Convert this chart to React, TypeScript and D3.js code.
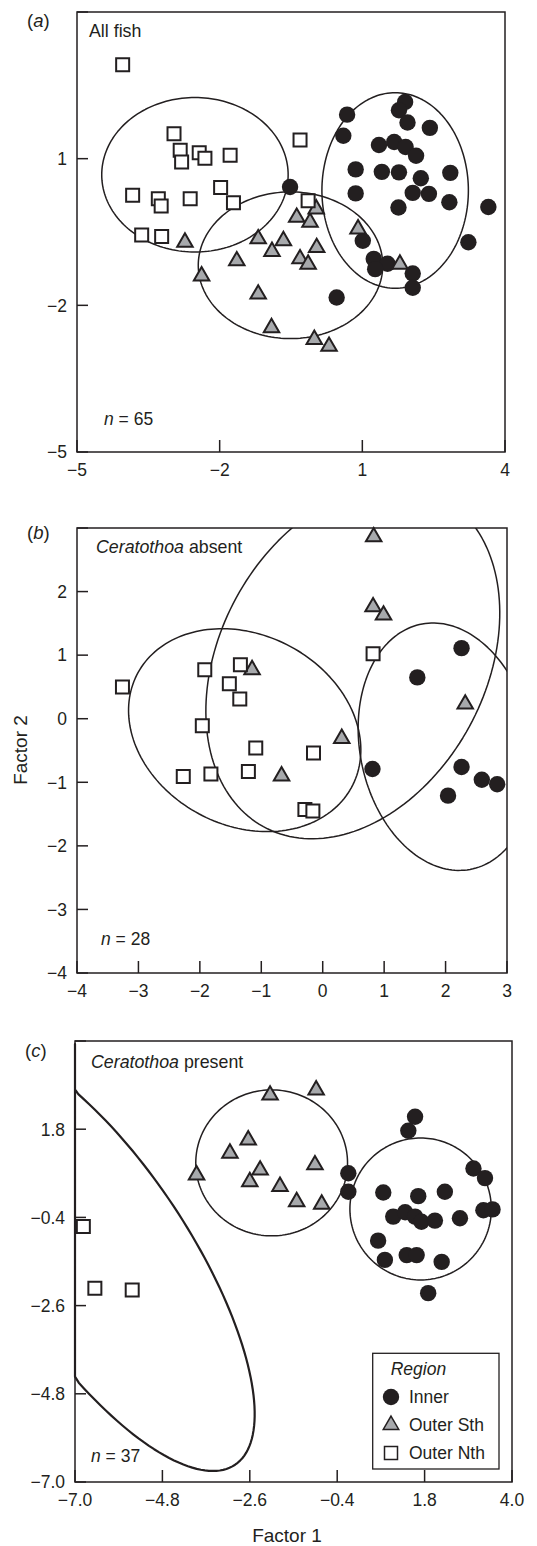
import React from 'react';
import * as d3 from 'd3';

type Pt = [number, number];
interface Ell { cx: number; cy: number; a: number; b: number; rot: number; w?: number }

const INK = '#231f20';
const GREY = '#a7a9ac';
const FONT = '"Liberation Sans", Arial, Helvetica, sans-serif';

// ---- panel (a) All fish ----
const circlesA: Pt[] = [
  [0.68, 1.90], [0.60, 1.47], [1.90, 2.16], [1.77, 1.99], [1.95, 1.74], [2.42, 1.63],
  [1.35, 1.28], [1.67, 1.34], [1.91, 1.24], [2.13, 1.06], [0.86, 0.78], [1.41, 0.73],
  [1.77, 0.72], [2.23, 0.60], [2.85, 0.71], [0.86, 0.29], [2.06, 0.30], [2.40, 0.28],
  [1.76, 0.00], [2.83, 0.11], [3.65, 0.01], [-0.52, 0.42], [3.23, -0.71], [1.01, -0.68],
  [1.24, -1.05], [1.53, -1.15], [1.27, -1.26], [2.06, -1.35], [2.06, -1.64], [0.46, -1.84],
];
const trianglesA: Pt[] = [
  [-2.73, -0.71], [-1.19, -0.64], [-0.66, -0.68], [-0.38, -0.20], [-0.10, -0.30], [0.03, -0.03],
  [0.91, -0.44], [0.04, -0.82], [-0.90, -0.90], [-2.38, -1.40], [-1.64, -1.09], [-0.31, -1.05],
  [-0.14, -1.16], [-1.19, -1.77], [-0.91, -2.46], [-0.01, -2.70], [0.30, -2.84], [1.79, -1.16],
];
const squaresA: Pt[] = [
  [-4.04, 2.92], [-2.96, 1.51], [-2.83, 1.17], [-2.80, 0.93], [-2.43, 1.12], [-2.31, 1.01],
  [-1.78, 1.07], [-3.83, 0.25], [-3.29, 0.18], [-3.23, 0.03], [-2.62, 0.18], [-1.98, 0.41],
  [-1.71, 0.10], [-3.64, -0.56], [-3.22, -0.59], [-0.31, 1.38], [-0.14, 0.14],
];
const ellipsesA: Ell[] = [
  { cx: -2.52, cy: 0.67, a: 1.96, b: 1.58, rot: 0 },
  { cx: -0.51, cy: -1.18, a: 1.94, b: 1.50, rot: 0 },
  { cx: 1.69, cy: 0.35, a: 1.54, b: 2.0, rot: 0 },
];
const xTicksA = [-5, -2, 1, 4];
const yTicksA = [-5, -2, 1, 4];

// ---- panel (b) Ceratothoa absent ----
const circlesB: Pt[] = [
  [2.26, 1.11], [1.54, 0.65], [0.81, -0.79], [2.26, -0.76], [2.59, -0.96], [2.84, -1.03], [2.04, -1.21],
];
const trianglesB: Pt[] = [
  [0.83, 2.86], [0.82, 1.76], [0.99, 1.63], [-1.15, 0.77], [0.31, -0.31], [2.32, 0.23], [-0.67, -0.90],
];
const squaresB: Pt[] = [
  [-3.26, 0.50], [-1.92, 0.77], [-1.34, 0.85], [-1.52, 0.55], [-1.35, 0.31], [-1.96, -0.11],
  [-1.09, -0.46], [-0.15, -0.54], [-2.27, -0.91], [-1.82, -0.87], [-1.21, -0.83], [-0.29, -1.43],
  [-0.16, -1.45], [0.82, 1.02],
];
const ellipsesB: Ell[] = [
  { cx: -1.27, cy: -0.18, a: 1.96, b: 1.51, rot: -24.4 },
  { cx: 0.49, cy: 0.89, a: 2.97, b: 2.15, rot: 59.2 },
  { cx: 2.01, cy: -0.44, a: 1.97, b: 1.40, rot: -77.2 },
];
const xTicksB = [-4, -3, -2, -1, 0, 1, 2, 3];
const yTicksB = [-4, -3, -2, -1, 0, 1, 2, 3];

// ---- panel (c) Ceratothoa present ----
const circlesC: Pt[] = [
  [1.56, 2.11], [1.39, 1.76], [-0.12, 0.70], [-0.12, 0.24], [3.03, 0.82], [3.32, 0.58],
  [0.76, 0.22], [1.64, 0.13], [2.31, 0.24], [1.01, -0.38], [1.31, -0.27], [1.56, -0.38],
  [1.72, -0.51], [2.06, -0.48], [2.69, -0.42], [3.28, -0.22], [3.51, -0.20], [0.63, -0.98],
  [0.80, -1.46], [1.35, -1.34], [1.60, -1.34], [2.23, -1.51], [1.89, -2.29],
];
const trianglesC: Pt[] = [
  [-3.94, 0.66], [-3.10, 1.20], [-2.64, 1.53], [-2.34, 0.78], [-2.60, 0.49], [-1.84, 0.37],
  [-2.09, 2.65], [-0.93, 2.78], [-0.96, 0.91], [-1.42, -0.01], [-0.79, -0.07],
];
const squaresC: Pt[] = [[-6.79, -0.63], [-6.50, -2.17], [-5.56, -2.21]];
const ellipsesC: Ell[] = [
  { cx: -6.43, cy: -1.40, a: 6.22, b: 2.30, rot: -56.2, w: 2.2 },
  { cx: -2.05, cy: 0.96, a: 1.91, b: 1.82, rot: 0 },
  { cx: 1.70, cy: -0.19, a: 1.78, b: 1.77, rot: 0 },
];
const ticksC = [-7, -4.8, -2.6, -0.4, 1.8, 4];

const legendItems = ['Inner', 'Outer Sth', 'Outer Nth'];

const minus = (s: string) => s.replace('-', '\u2212');
const fmtInt = (d: number) => minus(String(d));
const fmtDec = (d: number) => minus(d.toFixed(1));

const circleSym = d3.symbol().type(d3.symbolCircle).size(Math.PI * 8.2 * 8.2)();
const triSym = d3.symbol().type(d3.symbolTriangle).size(104)();
const sqSym = d3.symbol().type(d3.symbolSquare).size(13 * 13)();

interface PanelProps {
  id: string;
  frame: { left: number; right: number; top: number; bottom: number };
  xDomain: [number, number];
  yDomain: [number, number];
  xTicks: number[];
  yTicks: number[];
  xLabels: number[];
  yLabels: number[];
  fmt: (d: number) => string;
  ellipses: Ell[];
  clamp?: boolean;
  circles: Pt[];
  triangles: Pt[];
  squares: Pt[];
  letter: string;
  letterPos: [number, number];
  title: React.ReactNode;
  titlePos: [number, number];
  n: number;
  nPos: [number, number];
}

const Panel: React.FC<PanelProps> = (p) => {
  const { frame } = p;
  const x = d3.scaleLinear().domain(p.xDomain).range([frame.left, frame.right]);
  const y = d3.scaleLinear().domain(p.yDomain).range([frame.bottom, frame.top]);

  // ellipse outline in data space, optionally squashed onto the left frame edge
  const ellPath = (e: Ell) => {
    const r = (e.rot * Math.PI) / 180;
    const pts: [number, number][] = d3.range(0, 361, 2).map((deg) => {
      const t = (deg * Math.PI) / 180;
      let dx = e.cx + e.a * Math.cos(r) * Math.cos(t) - e.b * Math.sin(r) * Math.sin(t);
      const dy = e.cy + e.a * Math.sin(r) * Math.cos(t) + e.b * Math.cos(r) * Math.sin(t);
      if (p.clamp) dx = Math.max(p.xDomain[0], dx);
      return [x(dx), y(dy)];
    });
    return d3.line().curve(d3.curveLinearClosed)(pts) || '';
  };

  return (
    <g>
      <defs>
        <clipPath id={`clip-${p.id}`}>
          <rect x={frame.left} y={frame.top} width={frame.right - frame.left} height={frame.bottom - frame.top} />
        </clipPath>
      </defs>
      <g clipPath={p.clamp ? undefined : `url(#clip-${p.id})`}>
        {p.ellipses.map((e, i) => (
          <path key={i} d={ellPath(e)} fill="none" stroke={INK} strokeWidth={e.w ?? 1.5} strokeLinejoin="round" />
        ))}
      </g>
      <rect x={frame.left} y={frame.top} width={frame.right - frame.left} height={frame.bottom - frame.top}
        fill="none" stroke={INK} strokeWidth={1.5} />
      {p.xTicks.map((t) => (
        <line key={'xt' + t} x1={x(t)} x2={x(t)} y1={frame.bottom} y2={frame.bottom - 12} stroke={INK} strokeWidth={1.5} />
      ))}
      {p.yTicks.map((t) => (
        <line key={'yt' + t} x1={frame.left} x2={frame.left + 11} y1={y(t)} y2={y(t)} stroke={INK} strokeWidth={1.5} />
      ))}
      <g fontFamily={FONT} fontSize={17.5} fill={INK}>
        {p.xLabels.map((t) => (
          <text key={'xl' + t} x={x(t)} y={frame.bottom + 24} textAnchor="middle">{p.fmt(t)}</text>
        ))}
        {p.yLabels.map((t) => (
          <text key={'yl' + t} x={frame.left - 10} y={y(t)} dy="0.36em" textAnchor="end">{p.fmt(t)}</text>
        ))}
        <text x={p.letterPos[0]} y={p.letterPos[1]} fontSize={18.5}>(<tspan fontStyle="italic">{p.letter}</tspan>)</text>
        <text x={p.titlePos[0]} y={p.titlePos[1]} fontSize={17.8}>{p.title}</text>
        <text x={p.nPos[0]} y={p.nPos[1]}><tspan fontStyle="italic">n</tspan> = {p.n}</text>
      </g>
      {p.circles.map((d, i) => (
        <path key={'c' + i} d={circleSym || ''} transform={`translate(${x(d[0])},${y(d[1])})`} fill={INK} />
      ))}
      {p.triangles.map((d, i) => (
        <path key={'t' + i} d={triSym || ''} transform={`translate(${x(d[0])},${y(d[1])})`} fill={GREY} stroke={INK} strokeWidth={2} strokeLinejoin="miter" />
      ))}
      {p.squares.map((d, i) => (
        <path key={'s' + i} d={sqSym || ''} transform={`translate(${x(d[0])},${y(d[1])})`} fill="#fff" stroke={INK} strokeWidth={2} />
      ))}
    </g>
  );
};

const App: React.FC = () => {
  const legend = { left: 372.7, top: 1353.3, right: 499, bottom: 1469 };
  return (
    <svg width={537} height={1546} style={{ position: 'absolute', left: 0, top: 0, background: '#fff' }}>
      <Panel id="a" frame={{ left: 77, right: 505, top: 12, bottom: 452 }}
        xDomain={[-5, 4]} yDomain={[-5, 4]} xTicks={xTicksA} yTicks={yTicksA}
        xLabels={xTicksA} yLabels={[-5, -2, 1]} fmt={fmtInt}
        ellipses={ellipsesA} circles={circlesA} triangles={trianglesA} squares={squaresA}
        letter="a" letterPos={[27, 27]} title="All fish" titlePos={[89, 37]} n={65} nPos={[104, 425]} />
      <Panel id="b" frame={{ left: 77, right: 507, top: 528, bottom: 973 }}
        xDomain={[-4, 3]} yDomain={[-4, 3]} xTicks={xTicksB} yTicks={yTicksB}
        xLabels={xTicksB} yLabels={[-4, -3, -2, -1, 0, 1, 2]} fmt={fmtInt}
        ellipses={ellipsesB} circles={circlesB} triangles={trianglesB} squares={squaresB}
        letter="b" letterPos={[27, 539]}
        title={<><tspan fontStyle="italic">Ceratothoa</tspan> absent</>} titlePos={[96, 553]}
        n={28} nPos={[101, 945]} />
      <Panel id="c" frame={{ left: 75, right: 512, top: 1041, bottom: 1482 }}
        xDomain={[-7, 4]} yDomain={[-7, 4]} xTicks={ticksC} yTicks={ticksC}
        xLabels={ticksC} yLabels={ticksC.slice(0, 5)} fmt={fmtDec} clamp
        ellipses={ellipsesC} circles={circlesC} triangles={trianglesC} squares={squaresC}
        letter="c" letterPos={[25, 1057]}
        title={<><tspan fontStyle="italic">Ceratothoa</tspan> present</>} titlePos={[91, 1068]}
        n={37} nPos={[91, 1462]} />
      <g fontFamily={FONT} fill={INK} fontSize={19}>
        <text transform="translate(27,750) rotate(-90)" textAnchor="middle">Factor 2</text>
        <text x={287} y={1542} textAnchor="middle">Factor 1</text>
      </g>
      <g>
        <rect x={legend.left} y={legend.top} width={legend.right - legend.left} height={legend.bottom - legend.top}
          fill="#fff" stroke={INK} strokeWidth={1.3} />
        <text x={390.7} y={1375} fontFamily={FONT} fontSize={17.5} fontStyle="italic" fill={INK}>Region</text>
        {legendItems.map((name, i) => {
          const cy = 1397 + i * 28;
          const sym = i === 0 ? circleSym : i === 1 ? triSym : sqSym;
          return (
            <g key={name}>
              <path d={sym || ''} transform={`translate(391,${cy})`}
                fill={i === 0 ? INK : i === 1 ? GREY : '#fff'} stroke={i === 0 ? 'none' : INK} strokeWidth={1.5} />
              <text x={409} y={cy} dy="0.36em" fontFamily={FONT} fontSize={17.5} fill={INK}>{name}</text>
            </g>
          );
        })}
      </g>
    </svg>
  );
};

export default App;
